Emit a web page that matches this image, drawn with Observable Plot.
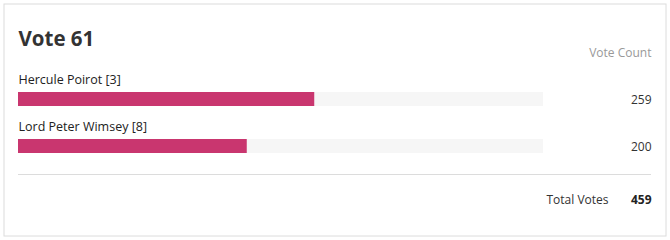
<!DOCTYPE html>
<html>
<head>
<meta charset="utf-8">
<script src="https://cdn.jsdelivr.net/npm/d3@7"></script>
<script src="https://cdn.jsdelivr.net/npm/@observablehq/plot@0.6"></script>
<style>
  html, body { margin: 0; padding: 0; background: #fff; }
</style>
</head>
<body>
<div id="chart"></div>
<script>
const title = "Vote 61";
const columnLabel = "Vote Count";
const candidates = ["Hercule Poirot [3]", "Lord Peter Wimsey [8]"];
const votes = [259, 200];
const totalLabel = "Total Votes";
const totalVotes = 459;

const rows = candidates.map((name, i) => ({name, votes: votes[i]}));
const TOTAL = "__total__";

const chart = Plot.plot({
  width: 670,
  height: 240,
  margin: 0,
  style: {fontFamily: "'Open Sans', sans-serif", fontSize: "12px", background: "#fff", color: "#333"},
  x: {domain: [0, totalVotes], range: [18, 543], axis: null},
  y: {type: "band", domain: [...candidates, TOTAL], range: [75, 216], padding: 0, axis: null},
  marks: [
    Plot.frame({stroke: "#dcdcdc", insetLeft: 3.5, insetRight: 4.5, insetTop: 3.5, insetBottom: 4.5}),
    Plot.text([title], {frameAnchor: "top-left", dx: 18, dy: 45, lineAnchor: "bottom", textAnchor: "start", fontSize: 20.5, fontWeight: "bold", fill: "#333"}),
    Plot.text([columnLabel], {frameAnchor: "top-right", dx: -19, dy: 56, lineAnchor: "bottom", textAnchor: "end", fontSize: 12, fill: "#999"}),
    Plot.barX(rows, {y: "name", x1: 0, x2: () => totalVotes, fill: "#f6f6f6", insetTop: 17, insetBottom: 16}),
    Plot.barX(rows, {y: "name", x1: 0, x2: "votes", fill: "#c9366f", insetTop: 17, insetBottom: 16}),
    Plot.text(rows, {y: "name", x: 0, text: "name", textAnchor: "start", lineAnchor: "bottom", dy: -15.5, fontSize: 12.5, fill: "#222"}),
    Plot.text(rows, {y: "name", frameAnchor: "right", dx: -19, text: d => String(d.votes), textAnchor: "end", lineAnchor: "bottom", dy: 4.5, fontSize: 12, fill: "#333"}),
    Plot.ruleY([TOTAL], {y: d => d, dy: -18.5, stroke: "#dcdcdc", insetLeft: 18, insetRight: 19}),
    Plot.text([totalLabel], {y: () => TOTAL, frameAnchor: "right", dx: -62, textAnchor: "end", lineAnchor: "bottom", dy: 10.5, fontSize: 12, fill: "#333"}),
    Plot.text([totalVotes], {y: () => TOTAL, frameAnchor: "right", dx: -19, text: d => String(d), textAnchor: "end", lineAnchor: "bottom", dy: 10.5, fontSize: 12, fontWeight: "bold", fill: "#222"})
  ]
});
document.getElementById("chart").appendChild(chart);
</script>
</body>
</html>
